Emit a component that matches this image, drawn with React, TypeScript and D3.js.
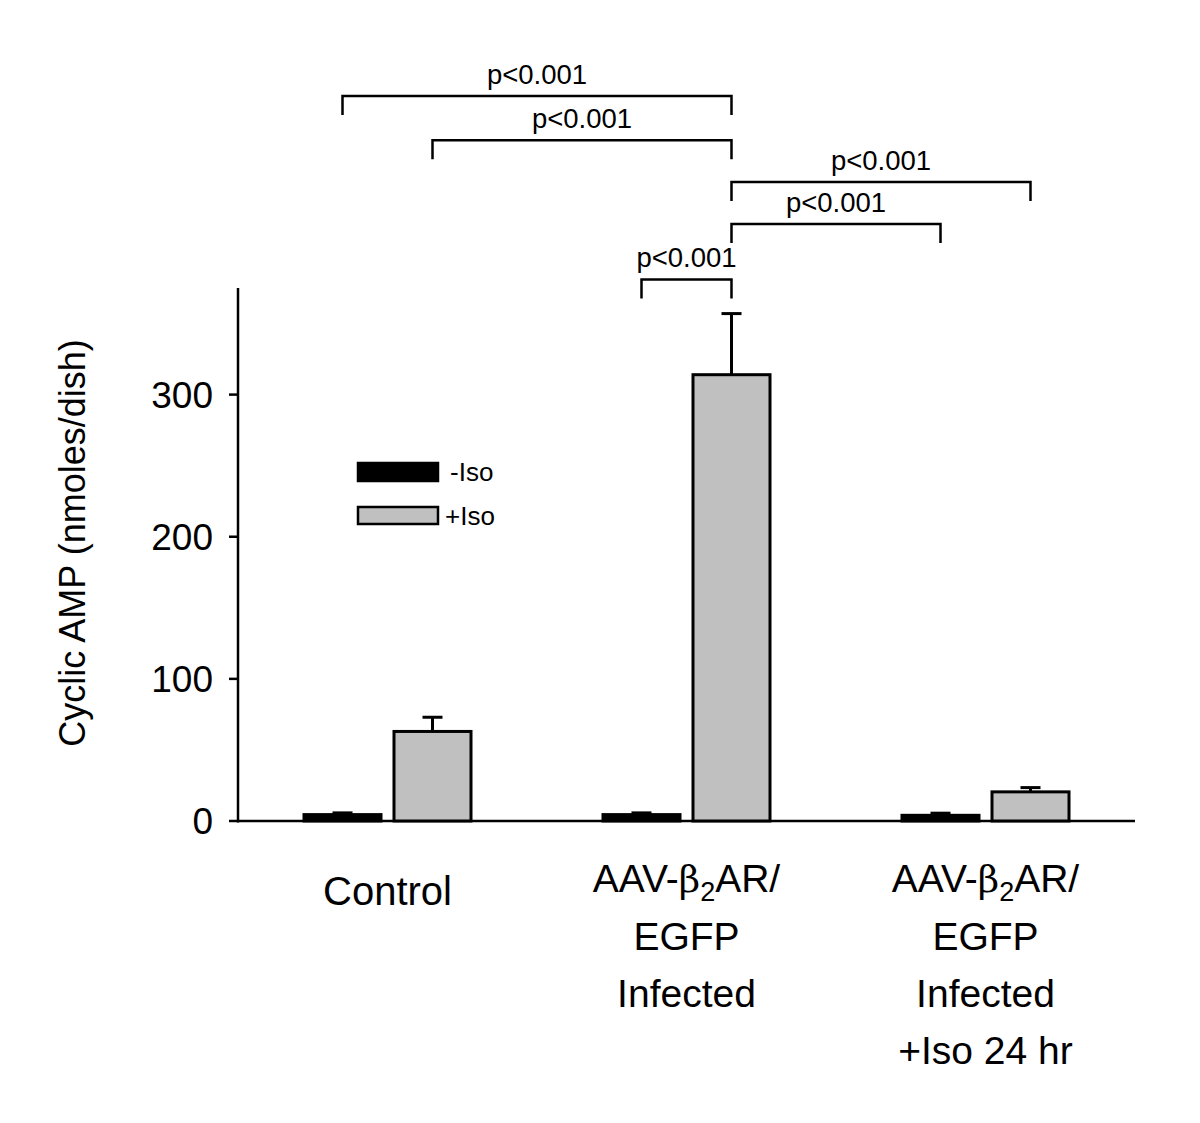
import React from "react";
import * as d3 from "d3";

const groups = ["Control", "AAV-EGFP", "AAV-EGFP-Iso24"];
const series = ["-Iso", "+Iso"];
const minusIso = [4.5, 4.5, 4];
const minusIsoErr = [1.2, 1.2, 1.5];
const plusIso = [63, 314, 20.5];
const plusIsoErr = [10, 43, 3];
const yTicks = [0, 100, 200, 300];
const pLabels = ["p<0.001", "p<0.001", "p<0.001", "p<0.001", "p<0.001"];
// comparisons: from (group, series) to (group, series) at a level (y units)
const compFromGroup = [0, 0, 1, 1, 1];
const compFromSeries = [0, 1, 1, 1, 0];
const compToGroup = [1, 1, 2, 2, 1];
const compToSeries = [1, 1, 1, 0, 1];
const compLevel = [510, 479, 449.5, 420, 381];

const FONT = "'Liberation Sans', Arial, sans-serif";

export default function App() {
  const width = 1200;
  const height = 1123;
  const x0 = 238;
  const x1 = 1135;
  const y = d3.scaleLinear().domain([0, 375]).range([821, 288]);
  const xg = d3.scaleBand<string>().domain(groups).range([x0, x1]).padding(0);
  const bw = xg.bandwidth();
  const xs = d3
    .scaleBand<string>()
    .domain(series)
    .range([bw / 2 - 83.5, bw / 2 + 83.5])
    .paddingInner(0.1444)
    .paddingOuter(0);
  const barW = xs.bandwidth();
  const cx = (g: number, s: number) =>
    (xg(groups[g]) as number) + (xs(series[s]) as number) + barW / 2;

  const vals = [minusIso, plusIso];
  const errs = [minusIsoErr, plusIsoErr];
  const fills = ["#000000", "#c0c0c0"];

  const bars: React.ReactNode[] = [];
  groups.forEach((g, gi) => {
    series.forEach((s, si) => {
      const v = vals[si][gi];
      const e = errs[si][gi];
      const xc = cx(gi, si);
      const top = y(v);
      const etop = y(v + e);
      bars.push(
        <g key={g + s}>
          <line x1={xc} x2={xc} y1={top} y2={etop} stroke="#000" strokeWidth={3} />
          <line x1={xc - 10} x2={xc + 10} y1={etop} y2={etop} stroke="#000" strokeWidth={3} />
          <rect
            x={xc - barW / 2}
            y={top}
            width={barW}
            height={y(0) - top}
            fill={fills[si]}
            stroke="#000"
            strokeWidth={3}
          />
        </g>
      );
    });
  });

  const brackets = pLabels.map((lab, i) => {
    const xa = cx(compFromGroup[i], compFromSeries[i]);
    const xb = cx(compToGroup[i], compToSeries[i]);
    const yl = y(compLevel[i]);
    const leg = 19;
    return (
      <g key={"b" + i}>
        <path
          d={`M${xa},${yl + leg}V${yl}H${xb}V${yl + leg}`}
          fill="none"
          stroke="#000"
          strokeWidth={2.5}
        />
        <text
          x={(xa + xb) / 2}
          y={yl - 12}
          textAnchor="middle"
          fontSize={27.5}
          fontFamily={FONT}
        >
          {lab}
        </text>
      </g>
    );
  });

  const aavLabel = (lines: string[], xc: number) => (
    <text textAnchor="middle" fontSize={39} fontFamily={FONT}>
      <tspan x={xc} y={892}>
        AAV-
        <tspan fontFamily="'DejaVu Serif', serif" fontSize={37}>β</tspan>
        <tspan fontSize={27} dy={9}>2</tspan>
        <tspan dy={-9}>AR/</tspan>
      </tspan>
      {lines.map((l, i) => (
        <tspan key={i} x={xc} y={950 + i * 57}>
          {l}
        </tspan>
      ))}
    </text>
  );

  const gc = (i: number) => (xg(groups[i]) as number) + bw / 2;

  return (
    <svg width={width} height={height} style={{ display: "block", position: "absolute", left: 0, top: 0 }}>
      <rect width={width} height={height} fill="#fff" />
      {/* axes */}
      <line x1={x0} x2={x0} y1={y(375)} y2={y(0) + 1.5} stroke="#000" strokeWidth={2.5} />
      <line x1={x0} x2={x1} y1={y(0)} y2={y(0)} stroke="#000" strokeWidth={2.5} />
      {yTicks.map((t) => (
        <g key={t}>
          <line x1={x0 - 9} x2={x0} y1={y(t)} y2={y(t)} stroke="#000" strokeWidth={2.5} />
          <text
            x={x0 - 25}
            y={y(t)}
            dy="0.35em"
            textAnchor="end"
            fontSize={37}
            fontFamily={FONT}
          >
            {t}
          </text>
        </g>
      ))}
      <text
        transform={`translate(72,543) rotate(-90)`}
        textAnchor="middle"
        dy="0.35em"
        fontSize={36}
        fontFamily={FONT}
      >
        Cyclic AMP (nmoles/dish)
      </text>
      {bars}
      {brackets}
      {/* legend */}
      <rect x={358} y={463} width={80} height={18} fill="#000" stroke="#000" strokeWidth={2.5} />
      <text x={450} y={481} fontSize={26} fontFamily={FONT}>-Iso</text>
      <rect x={358} y={507} width={80} height={17} fill="#c0c0c0" stroke="#000" strokeWidth={2.5} />
      <text x={445} y={525} fontSize={26} fontFamily={FONT}>+Iso</text>
      {/* x labels */}
      <text x={gc(0)} y={905} textAnchor="middle" fontSize={40} fontFamily={FONT}>
        Control
      </text>
      {aavLabel(["EGFP", "Infected"], gc(1))}
      {aavLabel(["EGFP", "Infected", "+Iso 24 hr"], gc(2))}
    </svg>
  );
}
